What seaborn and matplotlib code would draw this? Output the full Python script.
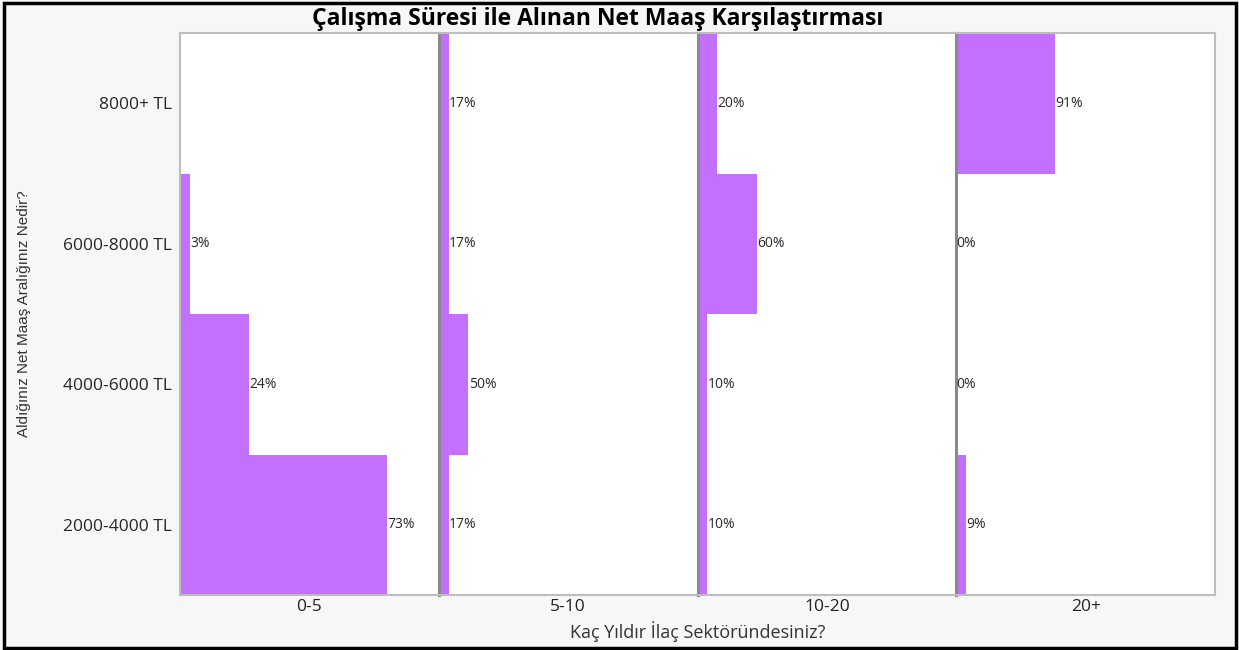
import matplotlib
matplotlib.use("Agg")
import matplotlib.pyplot as plt
import seaborn as sns
import pandas as pd
from matplotlib.patches import Rectangle

sns.set_style("white")
plt.rcParams['font.family'] = ['Open Sans', 'DejaVu Sans']

#-- data (bar length = number of answers, label = share within panel)
maas = ["8000+ TL", "6000-8000 TL", "4000-6000 TL", "2000-4000 TL"]
yil = ["0-5", "5-10", "10-20", "20+"]
count_0_5 = [0, 1, 7, 21]
count_5_10 = [1, 1, 3, 1]
count_10_20 = [2, 6, 1, 1]
count_20p = [10, 0, 0, 1]
pct_0_5 = ["", "3%", "24%", "73%"]
pct_5_10 = ["17%", "17%", "50%", "17%"]
pct_10_20 = ["20%", "60%", "10%", "10%"]
pct_20p = ["91%", "0%", "0%", "9%"]

counts = [count_0_5, count_5_10, count_10_20, count_20p]
pcts = [pct_0_5, pct_5_10, pct_10_20, pct_20p]

rows = []
for g, cnt, pc in zip(yil, counts, pcts):
    for m, c, p in zip(maas, cnt, pc):
        rows.append({"yil": g, "maas": m, "n": c, "pct": p})
df = pd.DataFrame(rows)

bar_color = "#c370ff"
light = "#bdbdbd"
dark = "#8a8a8a"

fig, axes = plt.subplots(1, 4, figsize=(12.39, 6.5), dpi=100, sharey=True)
fig.patch.set_facecolor("#f7f7f7")
fig.subplots_adjust(left=180/1239, right=1215/1239, top=1-33/650, bottom=1-595/650, wspace=0)

for i, (ax, g) in enumerate(zip(axes, yil)):
    sub = df[df["yil"] == g]
    sns.barplot(data=sub, x="n", y="maas", order=maas, orient="h", width=1.0,
                color=bar_color, saturation=1, edgecolor="none", ax=ax)
    ax.set_facecolor("white")
    ax.set_xlim(0, 26.3)
    ax.set_ylim(3.5, -0.5)
    ax.set_xticks([])
    ax.set_xlabel(g, fontsize=12.5, labelpad=3, color="#222222")
    ax.set_ylabel("")
    for j, (v, p) in enumerate(zip(sub["n"], sub["pct"])):
        if p:
            ax.text(v + 0.05, j, p, va="center", ha="left", fontsize=10, color="#2a2a2a")
    for s in ["top", "bottom", "right"]:
        ax.spines[s].set_color(light)
        ax.spines[s].set_linewidth(1.5)
    ax.spines["right"].set_visible(i == 3)
    if i == 0:
        ax.spines["left"].set_color(light)
        ax.spines["left"].set_linewidth(1.5)
    else:
        ax.spines["left"].set_color(dark)
        ax.spines["left"].set_linewidth(2.2)
    ax.tick_params(axis="y", length=0, labelsize=12.5, pad=6)

axes[0].set_ylabel("Aldığınız Net Maaş Aralığınız Nedir?", fontsize=11,
                   color="#333333", family=["Liberation Sans", "DejaVu Sans"])
axes[0].yaxis.set_label_coords(-0.575, 0.5)

fig.text((180 + 1215) / 2 / 1239, 1 - 632/650, "Kaç Yıldır İlaç Sektöründesiniz?",
         ha="center", va="center", fontsize=13, color="#333333")
fig.text(598 / 1239, 1 - 19/650, "Çalışma Süresi ile Alınan Net Maaş Karşılaştırması",
         ha="center", va="center", fontsize=16.5, fontweight="bold", color="black")

fig.patches.append(Rectangle((4/1239, 2/650), 1232/1239, 645/650, transform=fig.transFigure,
                             fill=False, edgecolor="black", linewidth=2.5))

fig.savefig("out.png", dpi=100, facecolor=fig.get_facecolor())
